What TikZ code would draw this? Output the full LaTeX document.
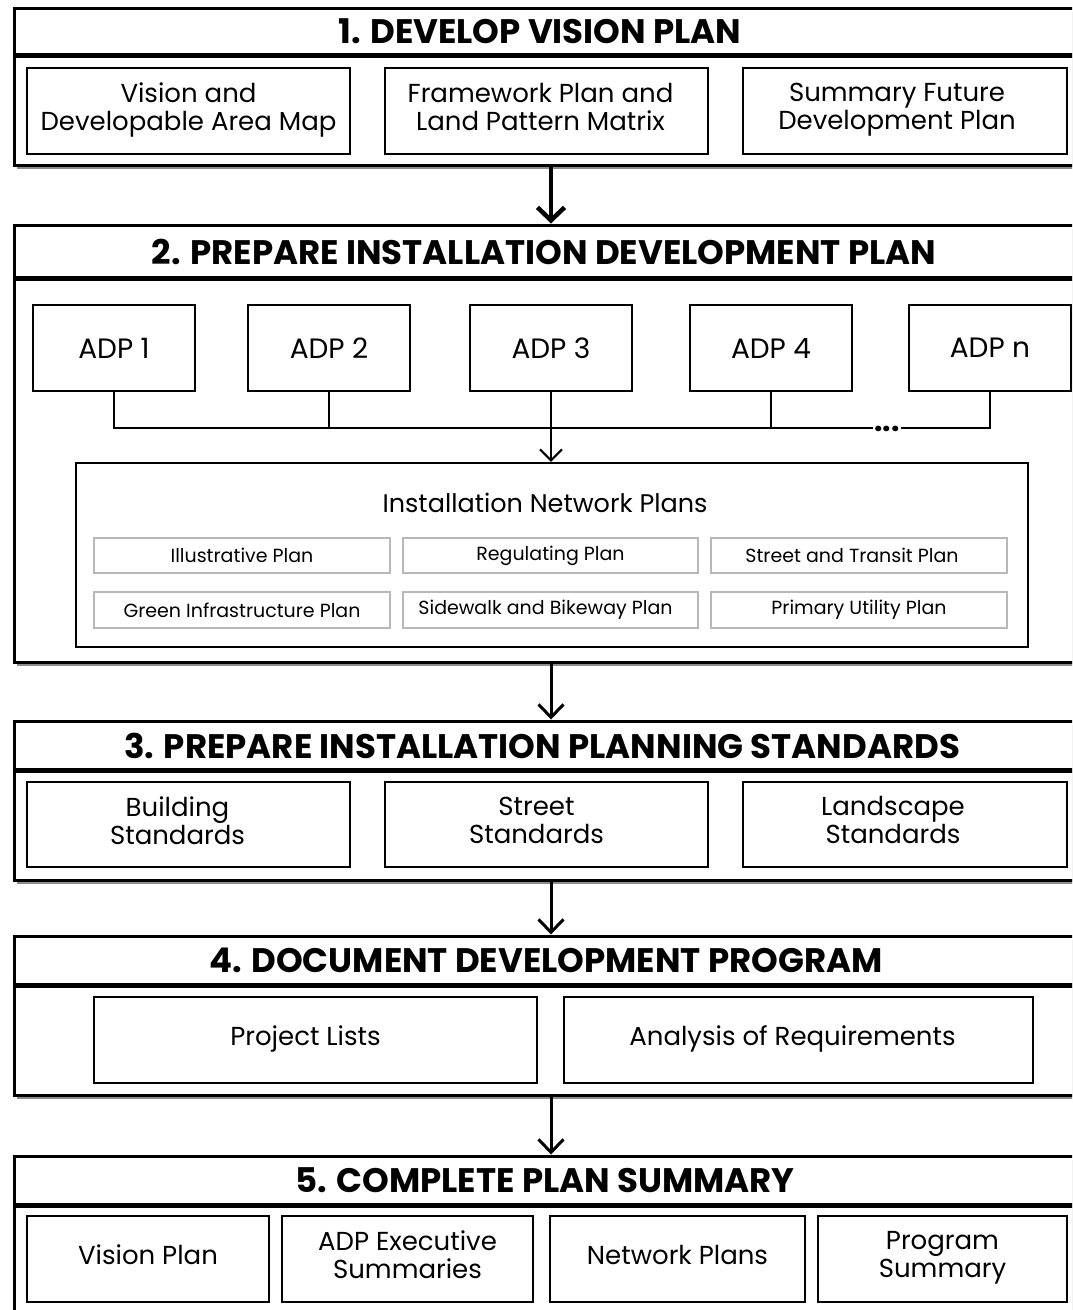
\documentclass[tikz,border=0pt]{standalone}
\usepackage{fontspec}
\setmainfont{Poppins}
\usetikzlibrary{arrows.meta}
% #1 style, #2 name, #3 x1, #4 y1, #5 x2, #6 y2, #7 text
\newcommand\mkbox[7]{\node[minimum width={(#5-#3)*1pt}, minimum height={(#6-#4)*1pt}, #1] (#2) at ({(#3+#5)/2},{(#4+#6)/2}) {#7};}
% invisible trailing space: shifts a centred line left by half its width
\newcommand\tsh[1]{\rule{#1}{0pt}}
\begin{document}
\begin{tikzpicture}[x=1pt,y=-1pt,
  frame/.style={draw, line width=3pt, fill=white, inner sep=0pt},
  shd/.style={fill=black!45},
  ttl/.style={inner sep=0pt, font=\fontsize{34}{38}\selectfont\bfseries},
  sep/.style={line width=5pt},
  box/.style={draw, line width=2.5pt, inner sep=0pt, align=center, font=\fontsize{26}{28}\selectfont,
    execute at begin node=\strut, execute at end node=\strut},
  adp/.style={draw, line width=2.8pt, inner sep=0pt, font=\fontsize{28}{30}\selectfont},
  gbox/.style={draw=black!28, line width=2.5pt, inner sep=0pt, font=\fontsize{19}{21}\selectfont},
  conn/.style={line width=1.4pt},
  flow/.style={line width=3pt, -{Straight Barb[length=13pt,width=25pt]}},
  flowthick/.style={line width=4.5pt, -{Straight Barb[length=13pt,width=27pt]}},
  small/.style={line width=2pt, -{Straight Barb[length=11pt,width=22pt]}}
]
\clip (0,0) rectangle (1072,1310);
\fill[white] (0,0) rectangle (1072,1310);

% ---------- Section 1
\fill[shd] (17,12) rectangle (1091,169);
\mkbox{frame}{s1}{14}{8}{1088}{165}{}
\mkbox{ttl, xshift=-11pt}{t1}{14}{8}{1088}{55}{1. DEVELOP VISION PLAN}
\draw[sep] (s1.west |- t1.south) -- (s1.east |- t1.south);
\mkbox{box}{a1}{27}{68}{350}{154}{Vision and\\Developable Area Map}
\mkbox{box}{a2}{385}{68}{708}{154}{Framework Plan and\tsh{12pt}\\Land Pattern Matrix\tsh{12pt}}
\mkbox{box}{a3}{743}{68}{1067}{154}{Summary Future\tsh{16pt}\\Development Plan\tsh{16pt}}

% ---------- Section 2
\fill[shd] (17,229) rectangle (1091,666);
\mkbox{frame}{s2}{14}{225}{1088}{662}{}
\mkbox{ttl, xshift=-7pt}{t2}{14}{225}{1088}{278}{2. PREPARE INSTALLATION DEVELOPMENT PLAN}
\draw[sep] (s2.west |- t2.south) -- (s2.east |- t2.south);
\mkbox{adp}{p1}{33}{305}{195}{391}{ADP 1}
\mkbox{adp}{p2}{248}{305}{410}{391}{ADP 2}
\mkbox{adp}{p3}{470}{305}{632}{391}{ADP 3}
\mkbox{adp}{p4}{690}{305}{852}{391}{ADP 4}
\mkbox{adp}{pn}{909}{305}{1071}{391}{ADP n}
\mkbox{draw, line width=2.5pt}{inp}{76}{463}{1028}{647}{}
\node[font=\fontsize{25.5}{28}\selectfont] (inpt) at (545,503) {Installation Network Plans};
\mkbox{gbox}{g1}{94}{538}{390}{573}{Illustrative Plan}
\mkbox{gbox}{g2}{403}{538}{698}{573}{Regulating Plan}
\mkbox{gbox}{g3}{711}{538}{1007}{573}{Street and Transit Plan\tsh{14pt}}
\mkbox{gbox}{g4}{94}{592}{390}{628}{Green Infrastructure Plan}
\mkbox{gbox}{g5}{403}{592}{698}{628}{Sidewalk and Bikeway Plan\tsh{10pt}}
\mkbox{gbox}{g6}{711}{592}{1007}{628}{Primary Utility Plan}
\node[inner sep=1pt, anchor=base, font=\fontsize{30}{30}\selectfont\bfseries] (dots) at (887,431) {...};
\coordinate (bus) at (0,428);
\draw[conn] (p1.south) |- (dots.west |- bus);
\draw[conn] (p2.south) -- (p2.south |- bus);
\draw[conn] (p4.south) -- (p4.south |- bus);
\draw[conn] (pn.south) |- (dots.east |- bus);
\draw[small] (p3.south) -- (p3.south |- inp.north);

% ---------- Section 3
\fill[shd] (17,725) rectangle (1091,884);
\mkbox{frame}{s3}{14}{721}{1088}{880}{}
\mkbox{ttl, xshift=-9pt}{t3}{14}{721}{1088}{770}{3. PREPARE INSTALLATION PLANNING STANDARDS}
\draw[sep] (s3.west |- t3.south) -- (s3.east |- t3.south);
\mkbox{box}{b1}{27}{782}{350}{867}{Building\tsh{22pt}\\Standards\tsh{22pt}}
\mkbox{box}{b2}{385}{782}{708}{867}{Street\tsh{20pt}\\Standards\tsh{20pt}}
\mkbox{box}{b3}{743}{782}{1067}{867}{Landscape\tsh{24pt}\\Standards\tsh{24pt}}

% ---------- Section 4
\fill[shd] (17,940) rectangle (1091,1099);
\mkbox{frame}{s4}{14}{936}{1088}{1095}{}
\mkbox{ttl, xshift=-5pt}{t4}{14}{936}{1088}{985}{4. DOCUMENT DEVELOPMENT PROGRAM}
\draw[sep] (s4.west |- t4.south) -- (s4.east |- t4.south);
\mkbox{box}{c1}{94}{997}{537}{1083}{Project Lists\tsh{20pt}}
\mkbox{box}{c2}{564}{997}{1033}{1083}{Analysis of Requirements\tsh{12pt}}

% ---------- Section 5
\fill[shd] (17,1160) rectangle (1091,1349);
\mkbox{frame}{s5}{14}{1156}{1088}{1345}{}
\mkbox{ttl, xshift=-6pt}{t5}{14}{1156}{1088}{1205}{5. COMPLETE PLAN SUMMARY}
\draw[sep] (s5.west |- t5.south) -- (s5.east |- t5.south);
\mkbox{box}{d1}{27}{1216}{269}{1302}{Vision Plan}
\mkbox{box}{d2}{282}{1216}{533}{1302}{ADP Executive\\Summaries}
\mkbox{box}{d3}{550}{1216}{805}{1302}{Network Plans}
\mkbox{box}{d4}{818}{1216}{1067}{1302}{Program\\Summary}

% ---------- Flow arrows
\draw[flowthick] (s1.south) -- (s2.north);
\draw[flow] (s2.south) -- (s3.north);
\draw[flow] (s3.south) -- (s4.north);
\draw[flow] (s4.south) -- (s5.north);
\end{tikzpicture}
\end{document}
